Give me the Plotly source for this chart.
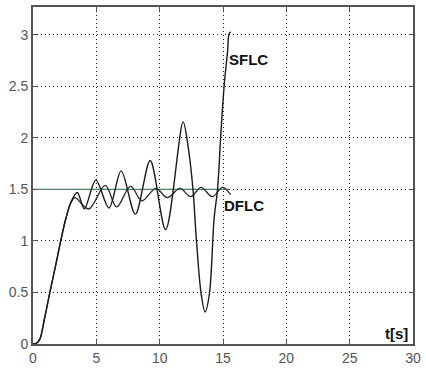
import plotly.graph_objects as go

# SFLC response (keypoints)
sflc_t = [0, 0.3, 0.55, 0.9, 1.33, 1.8, 2.24, 2.6, 3.0, 3.5, 4.05, 4.96, 6.0, 6.96, 8.08,
          9.25, 10.47, 11.85, 12.24, 12.63, 12.89, 13.27, 13.59, 13.93, 14.3, 14.57,
          14.83, 15.1, 15.36, 15.48, 15.61]
sflc_y = [0, 0.01, 0.05, 0.24, 0.5, 0.77, 1.03, 1.22, 1.38, 1.47, 1.31, 1.59, 1.32, 1.68, 1.26,
          1.78, 1.11, 2.155, 1.92, 1.5, 1.03, 0.49, 0.31, 0.49, 1.22, 1.5,
          2.04, 2.52, 2.84, 3.01, 3.03]

# DFLC response
dflc_t = [0, 0.3, 0.55, 0.9, 1.33, 1.8, 2.24, 2.6, 3.0, 3.3, 4.4, 5.7, 6.6, 7.7, 8.6,
          9.7, 10.6, 11.6, 12.45, 13.27, 14.15, 14.96, 15.6]
dflc_y = [0, 0.01, 0.05, 0.24, 0.5, 0.77, 1.03, 1.22, 1.37, 1.42, 1.31, 1.54, 1.33, 1.53, 1.39,
          1.51, 1.42, 1.51, 1.43, 1.52, 1.43, 1.52, 1.45]

# reference level
ref_t = [0, 15.5]
ref_y = [1.5, 1.5]

x_ticks = [0, 5, 10, 15, 20, 25, 30]
y_ticks = [0, 0.5, 1, 1.5, 2, 2.5, 3]
y_labels = ["0", "0.5", "1", "1.5", "2", "2.5", "3"]

fig = go.Figure()
fig.add_trace(go.Scatter(x=ref_t, y=ref_y, mode="lines",
                         line=dict(color="#4f7f5f", width=1.3), showlegend=False))
fig.add_trace(go.Scatter(x=dflc_t, y=dflc_y, mode="lines",
                         line=dict(color="#2a2a2a", width=1.3, shape="spline", smoothing=1.0),
                         showlegend=False))
fig.add_trace(go.Scatter(x=sflc_t, y=sflc_y, mode="lines",
                         line=dict(color="#1a1a1a", width=1.4, shape="spline", smoothing=0.9),
                         showlegend=False))

lab_font = dict(family="Liberation Sans, Arial, sans-serif", size=15, color="#111")
fig.add_annotation(x=15.28, y=2.76, text="<b>SFLC</b>", showarrow=False,
                   xanchor="left", yanchor="middle", font=lab_font)
fig.add_annotation(x=14.96, y=1.34, text="<b>DFLC</b>", showarrow=False,
                   xanchor="left", yanchor="middle", font=lab_font)
fig.add_annotation(x=28.7, y=0.1, text="<b>t[s]</b>", showarrow=False,
                   xanchor="center", yanchor="middle", font=lab_font)

tick_font = dict(family="Liberation Sans, Arial, sans-serif", size=14, color="#555")
fig.update_layout(
    width=426, height=371,
    margin=dict(l=33, r=8, t=5, b=23),
    paper_bgcolor="white", plot_bgcolor="white",
    xaxis=dict(range=[0, 30], tickvals=x_ticks, ticktext=[str(v) for v in x_ticks],
               showgrid=True, gridcolor="#222", griddash="1px,3px", gridwidth=1,
               showline=True, linecolor="#555", linewidth=2, mirror="ticks",
               ticks="inside", ticklen=4, tickcolor="#555",
               zeroline=False, tickfont=tick_font),
    yaxis=dict(range=[0, 3.27], tickvals=y_ticks, ticktext=y_labels,
               showgrid=True, gridcolor="#222", griddash="1px,3px", gridwidth=1,
               showline=True, linecolor="#555", linewidth=2, mirror="ticks",
               ticks="inside", ticklen=4, tickcolor="#555",
               zeroline=False, tickfont=tick_font),
)
fig.write_html("out.html")
